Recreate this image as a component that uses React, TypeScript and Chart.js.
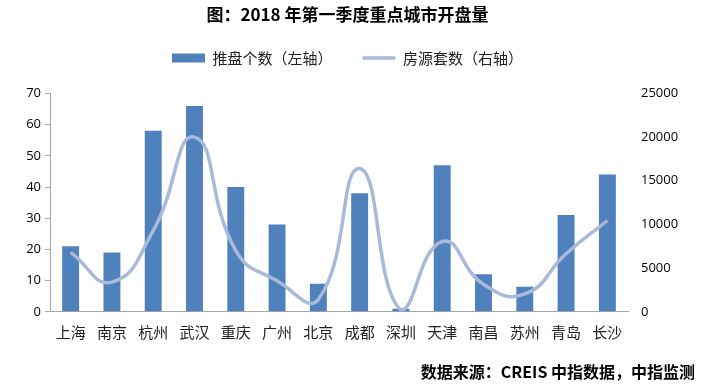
import React, { useEffect, useRef } from "react";
import { Chart, registerables } from "chart.js";

Chart.register(...registerables);

const cities = ["上海", "南京", "杭州", "武汉", "重庆", "广州", "北京", "成都", "深圳", "天津", "南昌", "苏州", "青岛", "长沙"];
const projects = [21, 19, 58, 66, 40, 28, 9, 38, 1, 47, 12, 8, 31, 44];
const units = [6800, 3400, 9300, 20000, 7000, 3550, 1400, 16400, 200, 8050, 3150, 2050, 6650, 10450];
const leftTicks = [0, 10, 20, 30, 40, 50, 60, 70];
const rightTicks = [0, 5000, 10000, 15000, 20000, 25000];

const titleText = "图：2018 年第一季度重点城市开盘量";
const sourceText = "数据来源：CREIS 中指数据，中指监测";
const barLabel = "推盘个数（左轴）";
const lineLabel = "房源套数（右轴）";

const CJK = "'Noto Sans CJK SC', 'Noto Sans', sans-serif";

const legendSpacing = {
  id: "legendSpacing",
  beforeInit(chart: any) {
    const lg = chart.legend;
    if (!lg) return;
    const orig = lg.fit;
    lg.fit = function () {
      orig.call(this);
      this.height += 18;
    };
  },
};

export default function App() {
  const ref = useRef<HTMLCanvasElement | null>(null);

  useEffect(() => {
    document.body.style.margin = "0";
    const canvas = ref.current;
    if (!canvas) return;
    const chart = new Chart(canvas, {
      data: {
        labels: cities,
        datasets: [
          {
            type: "line",
            label: lineLabel,
            data: units,
            yAxisID: "y1",
            borderColor: "#A8B9D9",
            backgroundColor: "#A8B9D9",
            borderWidth: 3.5,
            pointRadius: 0,
            tension: 0.5,
            pointStyle: "line",
            order: 0,
          } as any,
          {
            type: "bar",
            label: barLabel,
            data: projects,
            yAxisID: "y",
            backgroundColor: "#4F81BD",
            borderWidth: 0,
            barPercentage: 0.41,
            categoryPercentage: 1,
            pointStyle: "rect",
            order: 1,
          } as any,
        ],
      },
      options: {
        animation: false,
        responsive: false,
        maintainAspectRatio: false,
        layout: { padding: { left: 0, right: 13, top: 0, bottom: 4 } },
        plugins: {
          title: {
            display: true,
            text: titleText,
            color: "#000",
            font: { family: CJK, size: 17, weight: "bold" },
            padding: { top: 4, bottom: -4 },
          },
          subtitle: {
            display: true,
            text: sourceText,
            position: "bottom",
            align: "end",
            color: "#000",
            font: { family: CJK, size: 16, weight: "bold" },
            padding: { top: 11, bottom: 0 },
          },
          legend: {
            display: true,
            position: "top",
            reverse: true,
            labels: {
              usePointStyle: true,
              pointStyleWidth: 33,
              boxHeight: 9,
              padding: 30,
              color: "#222",
              font: { family: CJK, size: 15 },
            },
          },
          tooltip: { enabled: false },
        },
        scales: {
          x: {
            grid: { display: false, drawTicks: false },
            border: { display: true, color: "#A6A6A6", width: 1 },
            ticks: {
              color: "#222",
              font: { family: CJK, size: 15 },
              padding: 11,
              maxRotation: 0,
              autoSkip: false,
            },
          },
          y: {
            position: "left",
            min: 0,
            max: 70,
            afterBuildTicks: (axis: any) => {
              axis.ticks = leftTicks.map((v) => ({ value: v }));
            },
            afterFit: (axis: any) => {
              axis.width = 50;
            },
            grid: { display: true, drawOnChartArea: false, drawTicks: true, tickLength: 5, color: "#A6A6A6" },
            border: { display: true, color: "#A6A6A6", width: 1 },
            ticks: { color: "#000", font: { family: "'Open Sans', sans-serif", size: 13 }, padding: 4 },
          },
          y1: {
            position: "right",
            min: 0,
            max: 25000,
            afterBuildTicks: (axis: any) => {
              axis.ticks = rightTicks.map((v) => ({ value: v }));
            },
            afterFit: (axis: any) => {
              axis.width = 67;
            },
            grid: { display: false, drawTicks: false },
            border: { display: false },
            ticks: {
              color: "#000",
              font: { family: "'Open Sans', sans-serif", size: 13 },
              padding: 13,
              callback: (v: any) => String(v),
            },
          },
        },
      } as any,
      plugins: [legendSpacing],
    });
    return () => chart.destroy();
  }, []);

  return (
    <div style={{ width: 708, height: 386, background: "#fff" }}>
      <canvas ref={ref} width={708} height={386} style={{ display: "block" }} />
    </div>
  );
}
